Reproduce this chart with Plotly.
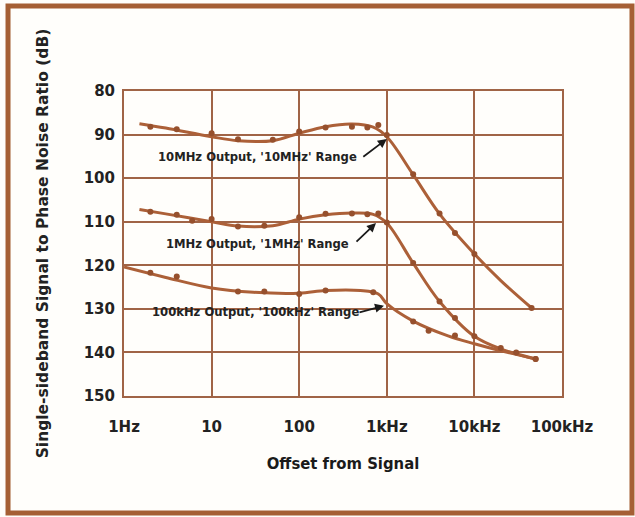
import math
import plotly.graph_objects as go

# ---- data ----
tick_vals = [1, 10, 100, 1000, 10000, 100000]
tick_text = ["1Hz", "10", "100", "1kHz", "10kHz", "100kHz"]
y_ticks = [80, 90, 100, 110, 120, 130, 140, 150]

# fitted curves
curve_10M_f = [1.5, 3, 10, 20, 50, 100, 200, 400, 700, 1000, 2000, 4000, 10000, 20000, 45000]
curve_10M_db = [87.5, 88.5, 90.5, 91.4, 91.4, 89.7, 88.2, 87.6, 88.3, 90.5, 99.2, 108.2, 117.4, 123.5, 129.8]

curve_1M_f = [1.5, 3, 10, 20, 50, 100, 200, 400, 700, 1000, 2000, 4000, 10000, 20000, 50000]
curve_1M_db = [107.2, 108.2, 110.0, 111.0, 110.9, 109.4, 108.4, 108.0, 108.3, 110.3, 119.5, 128.3, 136.3, 139.2, 141.5]

curve_100k_f = [1, 3, 10, 30, 100, 200, 500, 800, 1000, 2000, 5000, 10000, 20000, 50000]
curve_100k_db = [120.4, 122.8, 125.2, 126.2, 126.4, 125.8, 125.8, 126.6, 128.8, 132.8, 136.2, 138.0, 139.6, 141.5]

# measured points
m10M_f = [2, 4, 10, 20, 50, 100, 200, 400, 600, 800, 1000, 2000, 4000, 6000, 10000, 45000]
m10M_db = [88.2, 88.8, 89.7, 91.1, 91.2, 89.3, 88.4, 88.2, 88.4, 87.8, 90.1, 99.1, 108.1, 112.6, 117.4, 129.8]

m1M_f = [2, 4, 6, 10, 20, 40, 100, 200, 400, 600, 800, 1000, 2000, 4000, 6000, 10000, 20000, 50000]
m1M_db = [107.7, 108.4, 109.8, 109.4, 111.1, 110.9, 109.0, 108.2, 108.1, 108.3, 108.1, 110.2, 119.5, 128.3, 132.1, 136.3, 139.0, 141.5]

m100k_f = [2, 4, 20, 40, 100, 200, 700, 2000, 3000, 6000, 30000, 50000]
m100k_db = [121.7, 122.6, 126.0, 126.0, 126.6, 125.8, 126.2, 132.9, 135.0, 136.1, 140.0, 141.5]

labels = ["10MHz Output, '10MHz' Range", "1MHz Output, '1MHz' Range", "100kHz Output, '100kHz' Range"]
label_f = [33.8, 33.8, 31.3]
label_db = [95.1, 115.1, 130.7]
arrow_f = [1000, 753, 929]
arrow_db = [91.0, 110.3, 129.3]
arrow_dx = [-25, -21, -26]
arrow_dy = [19, 20, 7]

# ---- styles ----
LINE = "rgb(172,96,56)"
MARK = "rgb(150,80,45)"
GRID = "rgb(160,100,70)"
FRAME = "rgb(165,95,52)"
TXT = "#222222"
BG = "#fffefb"
BOLD = "DejaVu Sans, Liberation Sans, Arial, sans-serif"

fig = go.Figure()
for f, d in [(curve_10M_f, curve_10M_db), (curve_1M_f, curve_1M_db), (curve_100k_f, curve_100k_db)]:
    fig.add_trace(go.Scatter(x=f, y=d, mode="lines",
                             line=dict(color=LINE, width=3, shape="spline", smoothing=1.0),
                             hoverinfo="skip", showlegend=False))
for f, d in [(m10M_f, m10M_db), (m1M_f, m1M_db), (m100k_f, m100k_db)]:
    fig.add_trace(go.Scatter(x=f, y=d, mode="markers", marker=dict(color=MARK, size=6),
                             showlegend=False))

ann = []
for t, fx, dy in zip(labels, label_f, label_db):
    ann.append(dict(x=math.log10(fx), y=dy, xref="x", yref="y", text=t, showarrow=False,
                    font=dict(family=BOLD, size=11.6, color=TXT, weight="bold")))
for fx, dy, dx, ddy in zip(arrow_f, arrow_db, arrow_dx, arrow_dy):
    ann.append(dict(x=math.log10(fx), y=dy, xref="x", yref="y", text="", showarrow=True,
                    ax=dx, ay=ddy, arrowhead=2, arrowsize=1, arrowwidth=1.8, arrowcolor="#1a1a1a",
                    standoff=0))

fig.update_layout(
    width=635, height=517,
    margin=dict(l=124, r=73, t=91, b=121),
    paper_bgcolor=BG, plot_bgcolor=BG,
    annotations=ann,
    shapes=[dict(type="rect", xref="paper", yref="paper",
                 x0=-0.2648, x1=1.1598, y0=-0.3836, y1=1.2787,
                 line=dict(color=FRAME, width=5))],
    xaxis=dict(type="log", range=[0, 5], tickvals=tick_vals, ticktext=tick_text,
               showgrid=True, gridcolor=GRID, gridwidth=2,
               showline=True, linecolor=GRID, linewidth=2, mirror=True,
               zeroline=False, ticks="", ticklabelstandoff=16,
               tickfont=dict(family=BOLD, size=15, color=TXT, weight="bold"),
               title=dict(text="Offset from Signal", standoff=22,
                          font=dict(family="DejaVu Sans Condensed, Liberation Sans Narrow, Roboto, sans-serif",
                                    size=16.5, color="#1a1a1a", weight="bold"))),
    yaxis=dict(range=[150, 80], tickvals=y_ticks,
               showgrid=True, gridcolor=GRID, gridwidth=2,
               showline=True, linecolor=GRID, linewidth=2, mirror=True,
               zeroline=False, ticks="", ticklabelstandoff=4,
               tickfont=dict(family=BOLD, size=15, color=TXT, weight="bold"),
               title=dict(text="Single-sideband Signal to Phase Noise Ratio (dB)", standoff=31,
                          font=dict(family=BOLD, size=15.5, color=TXT, weight="bold"))),
)

fig.write_html("out.html", config={"displayModeBar": False},
               post_script="document.body.style.margin='0px';document.body.style.overflow='hidden';")
